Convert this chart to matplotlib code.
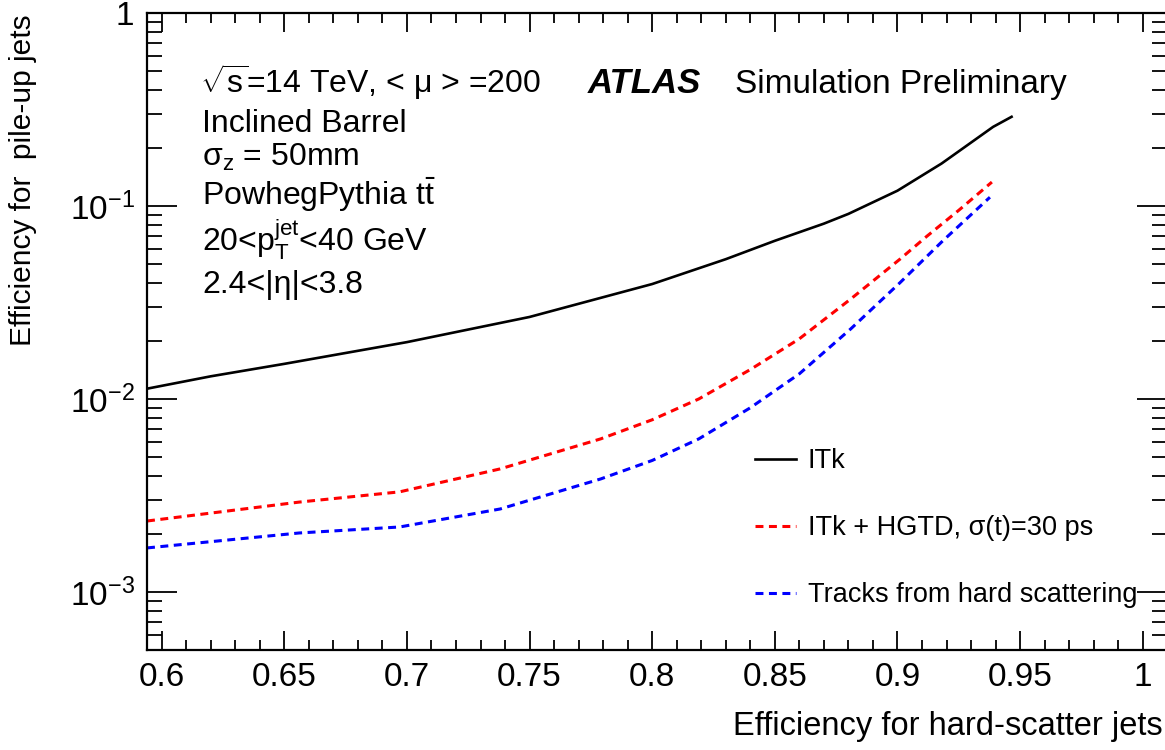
import matplotlib
matplotlib.use("Agg")
import matplotlib.pyplot as plt
from matplotlib.ticker import FixedLocator, FixedFormatter, LogLocator, MultipleLocator, NullFormatter
from matplotlib.lines import Line2D

# ---------------- data ----------------
itk_x = [0.594, 0.62, 0.65, 0.70, 0.75, 0.80, 0.83, 0.85, 0.87, 0.88, 0.90, 0.918, 0.925, 0.939, 0.947]
itk_y = [0.0113, 0.0131, 0.0152, 0.0197, 0.0266, 0.0394, 0.053, 0.066, 0.081, 0.091, 0.120, 0.166, 0.192, 0.257, 0.292]

hgtd_x = [0.594, 0.656, 0.697, 0.738, 0.779, 0.80, 0.819, 0.840, 0.860, 0.881, 0.901, 0.912, 0.925, 0.9385]
hgtd_y = [0.00233, 0.00292, 0.00330, 0.00434, 0.00621, 0.0078, 0.0100, 0.0142, 0.0205, 0.0330, 0.0530, 0.0697, 0.095, 0.133]

hs_x = [0.594, 0.656, 0.697, 0.738, 0.779, 0.80, 0.819, 0.840, 0.860, 0.881, 0.901, 0.9185, 0.9377]
hs_y = [0.00169, 0.00202, 0.00217, 0.00269, 0.00385, 0.0048, 0.00621, 0.0090, 0.0135, 0.0231, 0.0400, 0.066, 0.111]

labels = ["ITk", "ITk + HGTD, σ(t)=30 ps", "Tracks from hard scattering"]

x_ticks = [0.6, 0.65, 0.7, 0.75, 0.8, 0.85, 0.9, 0.95, 1.0]
x_tick_labels = ["0.6", "0.65", "0.7", "0.75", "0.8", "0.85", "0.9", "0.95", "1"]
y_ticks = [1e-3, 1e-2, 1e-1, 1.0]
y_tick_labels = [r"$10^{-3}$", r"$10^{-2}$", r"$10^{-1}$", "1"]

info_lines = [
    r"Inclined Barrel",
    r"σ$_\mathrm{z}$ = 50mm",
    r"PowhegPythia t$\bar{\mathrm{t}}$",
    r"20<p$_\mathrm{T}^\mathrm{jet}$<40 GeV",
    r"2.4<|η|<3.8",
]

# ---------------- style ----------------
FONT = ["Liberation Sans", "DejaVu Sans"]
plt.rcParams["font.family"] = FONT
plt.rcParams["mathtext.fontset"] = "custom"
plt.rcParams["mathtext.rm"] = "Liberation Sans"
plt.rcParams["mathtext.it"] = "Liberation Sans:italic"
plt.rcParams["mathtext.bf"] = "Liberation Sans:bold"
plt.rcParams["mathtext.sf"] = "Liberation Sans"

fig = plt.figure(figsize=(11.65, 7.5), dpi=100)
W, H = 1165, 750
ax = fig.add_axes([147 / W, (750 - 650) / H, (1167 - 147) / W, (650 - 13) / H])

ax.plot(itk_x, itk_y, color="black", lw=1.9, solid_capstyle="butt", solid_joinstyle="round")
ax.plot(hgtd_x, hgtd_y, color="#ff0000", lw=2.2, dashes=(2.6, 1.8))
ax.plot(hs_x, hs_y, color="#0000ff", lw=2.2, dashes=(2.6, 1.8))

ax.set_xlim(0.594, 1.0099)
ax.set_yscale("log")
ax.set_ylim(5e-4, 1.0)

ax.xaxis.set_major_locator(FixedLocator(x_ticks))
ax.xaxis.set_major_formatter(FixedFormatter(x_tick_labels))
ax.xaxis.set_minor_locator(MultipleLocator(0.01))
ax.yaxis.set_major_locator(FixedLocator(y_ticks))
ax.yaxis.set_major_formatter(FixedFormatter(y_tick_labels))
ax.yaxis.set_minor_locator(LogLocator(base=10, subs=range(2, 10)))
ax.yaxis.set_minor_formatter(NullFormatter())

for s in ax.spines.values():
    s.set_linewidth(1.6)

ax.tick_params(axis="x", which="major", direction="in", length=13.7, width=1.3,
               top=True, bottom=True, labelsize=24, pad=9)
ax.tick_params(axis="x", which="minor", direction="in", length=7.2, width=1.3,
               top=True, bottom=True)
ax.tick_params(axis="y", which="major", direction="in", length=21.6, width=1.3,
               left=True, right=True, labelsize=24, pad=9)
ax.tick_params(axis="y", which="minor", direction="in", length=10.8, width=1.3,
               left=True, right=True)

fig.text(1163 / W, 1 - 735 / H, "Efficiency for hard-scatter jets", ha="right",
         va="baseline", fontsize=23.5)
fig.text(9 / W, 1 - 14 / H, "Efficiency for  pile-up jets", ha="right",
         va="top", rotation=90, fontsize=21.5, rotation_mode="anchor")

# annotation text
fig.text(200 / W, 1 - 93 / H, r"$\sqrt{\mathrm{s}}$=14 TeV, < μ > =200", ha="left",
         va="baseline", fontsize=23)
fig.text(588 / W, 1 - 93 / H, "ATLAS", ha="left", va="baseline", fontsize=25,
         fontweight="bold", fontstyle="italic")
fig.text(735 / W, 1 - 93 / H, "Simulation Preliminary", ha="left", va="baseline",
         fontsize=24)
baselines = [132, 166, 205, 251, 293]
for txt, b in zip(info_lines, baselines):
    fig.text(202 / W, 1 - b / H, txt, ha="left", va="baseline", fontsize=23)

handles = [
    Line2D([], [], color="black", lw=1.9),
    Line2D([], [], color="#ff0000", lw=2.2, dashes=(2.6, 1.8)),
    Line2D([], [], color="#0000ff", lw=2.2, dashes=(2.6, 1.8)),
]
leg = ax.legend(handles, labels, loc="upper left",
                bbox_to_anchor=((755 - 147) / 1020, (650 - 448) / 637),
                frameon=False, fontsize=19.5, handlelength=1.5, handletextpad=0.45,
                labelspacing=1.52, borderaxespad=0, borderpad=0)

fig.savefig("out.png", dpi=100)
